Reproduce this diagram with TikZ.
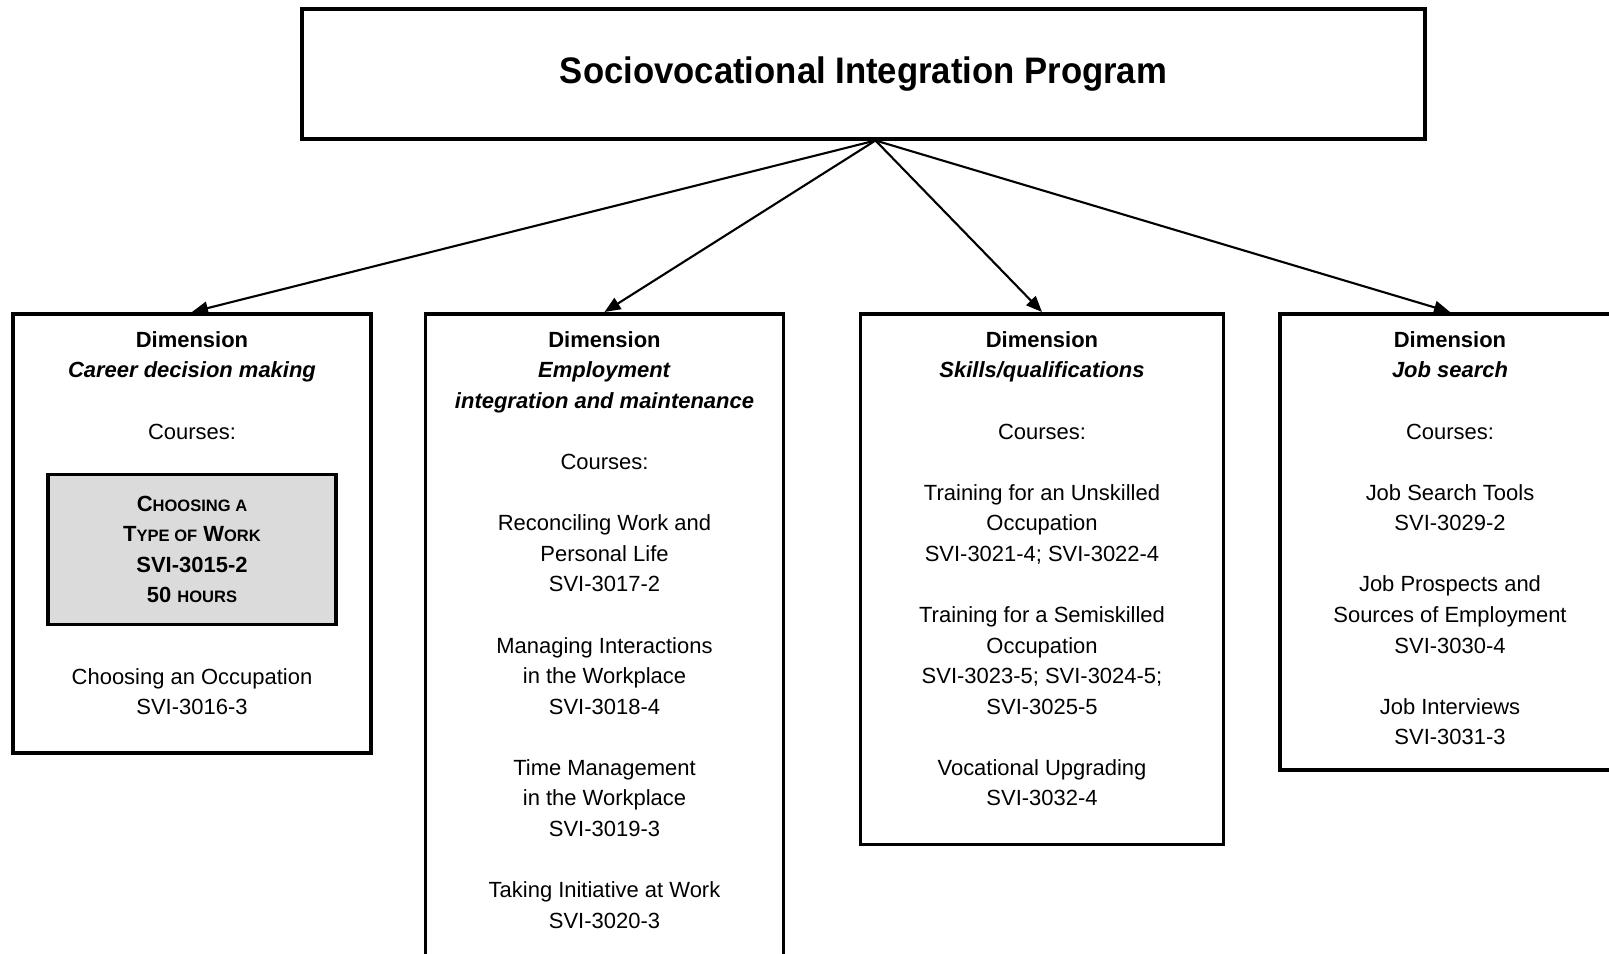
\documentclass[tikz,border=0pt]{standalone}
\usepackage{fontspec}
\setmainfont{Liberation Sans}
\newfontfamily\titlefont[FakeStretch=0.94]{Liberation Sans}
\usetikzlibrary{positioning,arrows.meta}
\newcommand{\smc}[1]{{\fontsize{9.4}{17.4}\selectfont #1}}

\begin{document}
\begin{tikzpicture}[
    every node/.style = {font = \fontsize{12.5}{17.4}\selectfont},
    dimbox/.style = {draw, line width = 2pt, minimum width = 7.16cm, anchor = north},
    dimtext/.style = {align = center, inner sep = 0pt},
    coursebox/.style = {draw, line width = 2pt, fill = black!14,
      minimum width = 5.76cm, minimum height = 3cm, align = center,
      font = \fontsize{12.5}{17.4}\selectfont\bfseries},
    link/.style = {-{Triangle[length = 0.32cm, width = 0.26cm]}, line width = 1.2pt},
  ]
  \useasboundingbox (0,0) rectangle (32.18,-19.08);

  \node [draw, line width = 2pt, minimum width = 22.45cm, minimum height = 2.6cm,
    font = \titlefont\fontsize{21}{25}\selectfont\bfseries] (Program) at (17.27,-1.48)
    {Sociovocational Integration Program};
  \coordinate (Hub) at (17.51,-2.81);

  \node [dimbox, minimum height = 8.78cm] (Career) at (3.84,-6.24) {};
  \node [dimbox, minimum height = 13.2cm] (Employment) at (12.09,-6.24) {};
  \node [dimbox, minimum width = 7.26cm, minimum height = 10.61cm] (Skills) at (20.84,-6.24) {};
  \node [dimbox, minimum width = 6.8cm, minimum height = 9.12cm] (Search) at (29.0,-6.24) {};

  \node [dimtext, below = 0.38cm of Career.north] (CareerHead)
    {\textbf{Dimension}\\ \textbf{\textit{Career decision making}}\\[17.4pt] Courses:};
  \node [coursebox, below = 0.66cm of CareerHead] (TypeOfWork)
    {C\smc{HOOSING A}\\ T\smc{YPE OF} W\smc{ORK}\\ SVI-3015-2\\ 50 \smc{HOURS}};
  \node [dimtext, below = 0.84cm of TypeOfWork] (Occupation)
    {Choosing an Occupation\\ SVI-3016-3};

  \node [dimtext, below = 0.38cm of Employment.north] (EmploymentText)
    {\textbf{Dimension}\\ \textbf{\textit{Employment}}\\ \textbf{\textit{integration and maintenance}}\\[17.4pt]
     Courses:\\[17.4pt]
     Reconciling Work and\\ Personal Life\\ SVI-3017-2\\[17.4pt]
     Managing Interactions\\ in the Workplace\\ SVI-3018-4\\[17.4pt]
     Time Management\\ in the Workplace\\ SVI-3019-3\\[17.4pt]
     Taking Initiative at Work\\ SVI-3020-3};

  \node [dimtext, below = 0.38cm of Skills.north] (SkillsText)
    {\textbf{Dimension}\\ \textbf{\textit{Skills/qualifications}}\\[17.4pt]
     Courses:\\[17.4pt]
     Training for an Unskilled\\ Occupation\\ SVI-3021-4; SVI-3022-4\\[17.4pt]
     Training for a Semiskilled\\ Occupation\\ SVI-3023-5; SVI-3024-5;\\ SVI-3025-5\\[17.4pt]
     Vocational Upgrading\\ SVI-3032-4};

  \node [dimtext, below = 0.38cm of Search.north] (SearchText)
    {\textbf{Dimension}\\ \textbf{\textit{Job search}}\\[17.4pt]
     Courses:\\[17.4pt]
     Job Search Tools\\ SVI-3029-2\\[17.4pt]
     Job Prospects and\\ Sources of Employment\\ SVI-3030-4\\[17.4pt]
     Job Interviews\\ SVI-3031-3};

  \foreach \target in {Career, Employment, Skills, Search}
    \draw [link] (Hub) -- (\target.north);
\end{tikzpicture}
\end{document}
